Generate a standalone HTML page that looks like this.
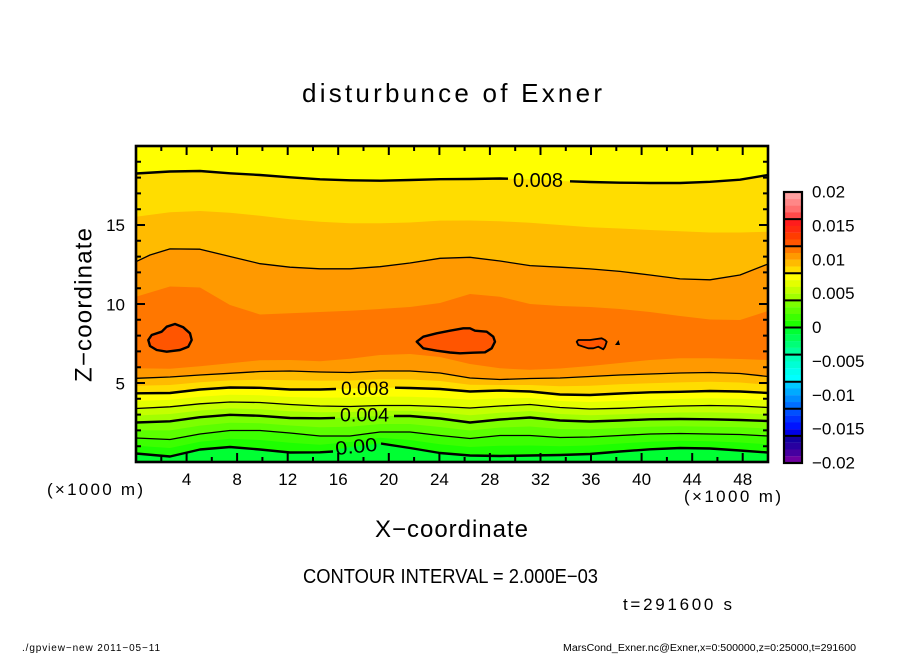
<!DOCTYPE html>
<html><head><meta charset="utf-8"><style>
html,body{margin:0;padding:0;background:#fff;}
svg{display:block;}
text{font-family:"Liberation Sans",sans-serif;fill:#000;}
</style></head><body>
<svg width="904" height="654" viewBox="0 0 904 654" xmlns="http://www.w3.org/2000/svg">
<rect width="904" height="654" fill="#fff"/>
<defs><clipPath id="pc"><rect x="136" y="146" width="632" height="316"/></clipPath></defs>
<g clip-path="url(#pc)">
<rect x="130" y="140" width="645" height="330" fill="#ff7700"/>
<polygon fill="#ff9900" points="130,140 130,296.7 136,296.7 170,286.5 200,287.5 230,305 260,314.5 290,313.3 320,312 350,310.7 380,309 410,307 440,303 470,294 500,296.7 530,304 560,306 590,307 620,309 650,312 680,316 710,319.5 740,320 768,311 775,311 775,140"/>
<polygon fill="#ffbb00" points="130,140 130,261.7 136,261.7 150,255 170,248.9 200,249.2 230,256.5 260,263.7 290,267.2 320,268.8 350,268.8 380,266.7 410,263 440,258.3 470,257.3 500,261 530,265.6 560,267.2 590,268.9 620,271.4 650,275 680,278.9 710,279.8 740,275 768,264 775,264 775,140"/>
<polygon fill="#ffdd00" points="130,140 130,216.7 136,216.7 170,212.3 200,211 230,212.8 260,215.7 290,219.2 320,221.8 350,223.3 380,223.3 410,222.5 440,220.6 470,220.5 500,221.3 530,222.7 560,225 590,227.2 620,228.5 650,230 680,231.2 710,232.5 740,232.5 768,231.7 775,231.7 775,140"/>
<polygon fill="#ffff00" points="130,140 130,173.5 136,173.5 170,171.5 200,171 230,173.3 260,175 290,177.3 320,179.3 350,180.3 380,180.7 410,180 440,179.2 470,179 500,178.5 530,179.5 560,181 590,182 620,182.7 650,183 680,183 710,181.8 740,179.7 768,175 775,175 775,140"/>
<polygon fill="#ff9900" points="130,470 130,368.3 136,368.3 170,368.8 200,366.3 230,363.3 260,360.3 290,360 320,361.2 350,358.7 380,355 410,354 440,357 470,364 500,368.3 530,369.8 560,368.5 590,366 620,363 650,360 680,358.3 710,358.3 740,359 768,360 775,360 775,470"/>
<polygon fill="#ffbb00" points="130,470 130,378.3 136,378.3 170,377 200,375 230,373.3 260,371.5 290,371 320,372 350,372.5 380,371 410,371 440,373 470,378 500,379.5 530,378.5 560,378 590,376.5 620,375 650,374 680,373 710,372.5 740,373.5 768,376.5 775,376.5 775,470"/>
<polygon fill="#ffdd00" points="130,470 130,385.8 136,385.8 170,385 200,382.3 230,380.4 260,379.7 290,380.3 320,380.8 350,380.5 380,379.3 410,379.5 440,381 470,384.8 500,385 530,385 560,386.3 590,385.8 620,384.3 650,383.2 680,382.4 710,381.8 740,382.5 768,384.8 775,384.8 775,470"/>
<polygon fill="#ffff00" points="130,470 130,393.3 136,393.3 170,393 200,389.5 230,387.5 260,387.8 290,389.5 320,389.5 350,388.5 380,387.5 410,388 440,389 470,391.5 500,390.5 530,391.5 560,394.5 590,395 620,393.5 650,392.3 680,391.8 710,391 740,391.5 768,393 775,393 775,470"/>
<polygon fill="#e4ff00" points="130,470 130,400.9 136,400.9 170,399.9 200,396.7 230,394.8 260,395.2 290,397 320,397.8 350,397.5 380,396.5 410,396.8 440,397.8 470,399.8 500,398.3 530,398 560,401 590,402 620,400.9 650,399.7 680,398.9 710,398.3 740,398.8 768,400.3 775,400.3 775,470"/>
<polygon fill="#c4ff00" points="130,470 130,408.5 136,408.5 170,406.8 200,403.8 230,402 260,402.5 290,404.5 320,406 350,406.5 380,405.5 410,405.5 440,406.5 470,408 500,406 530,404.5 560,407.5 590,409 620,408.3 650,407 680,406 710,405.5 740,406 768,407.5 775,407.5 775,470"/>
<polygon fill="#a2ff00" points="130,470 130,415.5 136,415.5 170,414 200,410.5 230,408.4 260,409.2 290,411.3 320,412.2 350,412 380,410.8 410,410.8 440,412.5 470,415.3 500,412.8 530,411 560,414 590,415.3 620,414.4 650,413.2 680,412.5 710,412.4 740,413 768,414.3 775,414.3 775,470"/>
<polygon fill="#7cff00" points="130,470 130,422.5 136,422.5 170,421.3 200,417.2 230,414.8 260,415.8 290,418 320,418.3 350,417.5 380,416 410,416 440,418.5 470,422.5 500,419.5 530,417.5 560,420.5 590,421.5 620,420.5 650,419.3 680,419 710,419.3 740,420 768,421 775,421 775,470"/>
<polygon fill="#5cff00" points="130,470 130,430.3 136,430.3 170,430.4 200,425.6 230,422.7 260,423.2 290,425.5 320,427.2 350,426.8 380,424 410,424 440,427 470,430.5 500,427.5 530,426.5 560,429 590,429.3 620,428 650,426.7 680,426.3 710,426.7 740,427.3 768,428.5 775,428.5 775,470"/>
<polygon fill="#3cff00" points="130,470 130,438 136,438 170,439.5 200,434 230,430.5 260,430.5 290,433 320,436 350,436 380,432 410,432 440,435.5 470,438.5 500,435.5 530,435.5 560,437.5 590,437 620,435.5 650,434 680,433.5 710,434 740,434.5 768,436 775,436 775,470"/>
<polygon fill="#1eff00" points="130,470 130,445.8 136,445.8 170,448 200,441.8 230,438.8 260,440 290,442.8 320,444.8 350,442 380,437.8 410,440 440,444.3 470,447 500,445.8 530,445.5 560,446.3 590,445.5 620,443.5 650,441.7 680,440.8 710,441.3 740,442.5 768,444.3 775,444.3 775,470"/>
<polygon fill="#00ff33" points="130,470 130,453.5 136,453.5 170,456.5 200,449.5 230,447 260,449.5 290,452.5 320,452.5 350,447 380,443.5 410,448 440,453 470,455.5 500,456 530,455.5 560,455 590,454 620,451.5 650,449.3 680,448 710,448.5 740,450.5 768,452.5 775,452.5 775,470"/>
<g fill="#ff5500" stroke="#000" stroke-width="2.4" stroke-linejoin="round">
<polygon points="148.3,340 151.7,335 161.7,331.7 166.7,326.7 175,324 183.3,327.3 190,333.3 191.7,340 188.3,346.7 180,350 166.7,351.7 156.7,350 150,346"/>
<polygon points="416.7,341.7 423.3,336.7 436.7,333.3 450,330.7 463.3,328.3 470,328.3 475,330.7 486.7,331.7 493.3,336.7 495,341.7 491.7,348.3 485,352.3 473.3,352.7 460,353.3 450,352.5 436.7,350.7 423.3,348.3"/>
<polygon stroke-width="1.8" points="576.7,341.7 578.3,340 590,340 596.7,339 601.7,338.3 605,340 606.7,341.7 605,346.7 603.3,349.3 598.3,346.7 593.3,348.3 588.3,348.3 583.3,346.7 578.3,345"/>
</g>
<polygon fill="#000" points="615,345 620,345 618.5,340"/>
<g fill="none" stroke="#000" stroke-linejoin="round">
<polyline stroke-width="2.4" points="136,173.5 170,171.5 200,171 230,173.3 260,175 290,177.3 320,179.3 350,180.3 380,180.7 410,180 440,179.2 470,179 500,178.5 508,178.7"/>
<polyline stroke-width="2.4" points="570,181.3 590,182 620,182.7 650,183 680,183 710,181.8 740,179.7 768,175"/>
<polyline stroke-width="1.3" points="136,261.7 150,255 170,248.9 200,249.2 230,256.5 260,263.7 290,267.2 320,268.8 350,268.8 380,266.7 410,263 440,258.3 470,257.3 500,261 530,265.6 560,267.2 590,268.9 620,271.4 650,275 680,278.9 710,279.8 740,275 768,264"/>
<polyline stroke-width="1.3" points="136,378.3 170,377 200,375 230,373.3 260,371.5 290,371 320,372 350,372.5 380,371 410,371 440,373 470,378 500,379.5 530,378.5 560,378 590,376.5 620,375 650,374 680,373 710,372.5 740,373.5 768,376.5"/>
<polyline stroke-width="2.4" points="136,393.3 170,393 200,389.5 230,387.5 260,387.8 290,389.5 320,389.5 336,389"/>
<polyline stroke-width="2.4" points="395,387.7 410,388 440,389 470,391.5 500,390.5 530,391.5 560,394.5 590,395 620,393.5 650,392.3 680,391.8 710,391 740,391.5 768,393"/>
<polyline stroke-width="1.3" points="136,408.5 170,406.8 200,403.8 230,402 260,402.5 290,404.5 320,406 350,406.5 380,405.5 410,405.5 440,406.5 470,408 500,406 530,404.5 560,407.5 590,409 620,408.3 650,407 680,406 710,405.5 740,406 768,407.5"/>
<polyline stroke-width="2.4" points="136,422.5 170,421.3 200,417.2 230,414.8 260,415.8 290,418 320,418.3 335,417.9"/>
<polyline stroke-width="2.4" points="394,416 410,416 440,418.5 470,422.5 500,419.5 530,417.5 560,420.5 590,421.5 620,420.5 650,419.3 680,419 710,419.3 740,420 768,421"/>
<polyline stroke-width="1.3" points="136,438 170,439.5 200,434 230,430.5 260,430.5 290,433 320,436 350,436 380,432 410,432 440,435.5 470,438.5 500,435.5 530,435.5 560,437.5 590,437 620,435.5 650,434 680,433.5 710,434 740,434.5 768,436"/>
<polyline stroke-width="2.4" points="136,453.5 170,456.5 200,449.5 230,447 260,449.5 290,452.5 320,452.3 333,451.5"/>
<polyline stroke-width="2.4" points="381,443.5 410,448 440,453 470,455.5 500,456 530,455.5 560,455 590,454 620,451.5 650,449.3 680,448 710,448.5 740,450.5 768,452.5"/>
</g>
<text x="513" y="187" font-size="20" textLength="50" lengthAdjust="spacingAndGlyphs">0.008</text>
<text x="341" y="395" font-size="19" textLength="48" lengthAdjust="spacingAndGlyphs">0.008</text>
<text x="340" y="421.5" font-size="19" textLength="49" lengthAdjust="spacingAndGlyphs">0.004</text>
<text x="336" y="455" font-size="19" textLength="42" lengthAdjust="spacingAndGlyphs" transform="rotate(-6 336 455)">0.00</text>
</g>
<rect x="136" y="146" width="632" height="316" fill="none" stroke="#000" stroke-width="2.6"/>
<g stroke="#000" stroke-width="2">
<path d="M186.6,462v-9M237.1,462v-9M287.7,462v-9M338.2,462v-9M388.8,462v-9M439.4,462v-9M489.9,462v-9M540.5,462v-9M591,462v-9M641.6,462v-9M692.2,462v-9M742.7,462v-9"/>
<path d="M186.6,146v9M237.1,146v9M287.7,146v9M338.2,146v9M388.8,146v9M439.4,146v9M489.9,146v9M540.5,146v9M591,146v9M641.6,146v9M692.2,146v9M742.7,146v9"/>
<path d="M161.3,462v-5M211.8,462v-5M262.4,462v-5M313,462v-5M363.5,462v-5M414.1,462v-5M464.6,462v-5M515.2,462v-5M565.8,462v-5M616.3,462v-5M666.9,462v-5M717.4,462v-5"/>
<path d="M161.3,146v5M211.8,146v5M262.4,146v5M313,146v5M363.5,146v5M414.1,146v5M464.6,146v5M515.2,146v5M565.8,146v5M616.3,146v5M666.9,146v5M717.4,146v5"/>
<path d="M136,383h9M136,304h9M136,225h9M768,383h-9M768,304h-9M768,225h-9"/>
<path d="M136,446.2h5M136,430.4h5M136,414.6h5M136,398.8h5M136,367.2h5M136,351.4h5M136,335.6h5M136,319.8h5M136,288.2h5M136,272.4h5M136,256.6h5M136,240.8h5M136,209.2h5M136,193.4h5M136,177.6h5M136,161.8h5"/>
<path d="M768,446.2h-5M768,430.4h-5M768,414.6h-5M768,398.8h-5M768,367.2h-5M768,351.4h-5M768,335.6h-5M768,319.8h-5M768,288.2h-5M768,272.4h-5M768,256.6h-5M768,240.8h-5M768,209.2h-5M768,193.4h-5M768,177.6h-5M768,161.8h-5"/>
</g>
<g font-size="17" text-anchor="middle">
<text x="186.6" y="485">4</text><text x="237.1" y="485">8</text><text x="287.7" y="485">12</text><text x="338.2" y="485">16</text><text x="388.8" y="485">20</text><text x="439.4" y="485">24</text><text x="489.9" y="485">28</text><text x="540.5" y="485">32</text><text x="591" y="485">36</text><text x="641.6" y="485">40</text><text x="692.2" y="485">44</text><text x="742.7" y="485">48</text>
</g>
<g font-size="17" text-anchor="end">
<text x="125" y="231">15</text><text x="125" y="310.5">10</text><text x="125" y="389.5">5</text>
</g>
<text x="47" y="495" font-size="17" textLength="96" lengthAdjust="spacing">(×1000 m)</text>
<text x="684" y="502" font-size="17" textLength="97" lengthAdjust="spacing">(×1000 m)</text>
<text x="302" y="102" font-size="26" textLength="300" lengthAdjust="spacing">disturbunce of Exner</text>
<text x="375" y="537" font-size="24" textLength="153" lengthAdjust="spacing">X−coordinate</text>
<text transform="translate(91.5,382) rotate(-90)" font-size="24" textLength="154" lengthAdjust="spacing">Z−coordinate</text>
<text x="303" y="583" font-size="20" textLength="295" lengthAdjust="spacingAndGlyphs">CONTOUR INTERVAL = 2.000E−03</text>
<text x="623" y="610" font-size="17" textLength="109" lengthAdjust="spacing">t=291600 s</text>
<text x="22" y="651" font-size="10" textLength="138" lengthAdjust="spacing">./gpview−new  2011−05−11</text>
<text x="563" y="651" font-size="10" textLength="293" lengthAdjust="spacingAndGlyphs">MarsCond_Exner.nc@Exner,x=0:500000,z=0:25000,t=291600</text>
<g>
<rect x="784" y="192" width="18" height="6.9" fill="#ff9f9f"/>
<rect x="784" y="198.78" width="18" height="6.9" fill="#ff8787"/>
<rect x="784" y="205.55" width="18" height="6.9" fill="#ff6f6f"/>
<rect x="784" y="212.33" width="18" height="6.9" fill="#ff4a4a"/>
<rect x="784" y="219.1" width="18" height="6.9" fill="#ff1c1c"/>
<rect x="784" y="225.88" width="18" height="6.9" fill="#ff2a10"/>
<rect x="784" y="232.65" width="18" height="6.9" fill="#ff3c00"/>
<rect x="784" y="239.43" width="18" height="6.9" fill="#ff5500"/>
<rect x="784" y="246.2" width="18" height="6.9" fill="#ff7700"/>
<rect x="784" y="252.98" width="18" height="6.9" fill="#ff9900"/>
<rect x="784" y="259.75" width="18" height="6.9" fill="#ffbb00"/>
<rect x="784" y="266.53" width="18" height="6.9" fill="#ffdd00"/>
<rect x="784" y="273.3" width="18" height="6.9" fill="#ffff00"/>
<rect x="784" y="280.08" width="18" height="6.9" fill="#e4ff00"/>
<rect x="784" y="286.85" width="18" height="6.9" fill="#c4ff00"/>
<rect x="784" y="293.63" width="18" height="6.9" fill="#a2ff00"/>
<rect x="784" y="300.4" width="18" height="6.9" fill="#7cff00"/>
<rect x="784" y="307.18" width="18" height="6.9" fill="#5cff00"/>
<rect x="784" y="313.95" width="18" height="6.9" fill="#3cff00"/>
<rect x="784" y="320.73" width="18" height="6.9" fill="#1eff00"/>
<rect x="784" y="327.5" width="18" height="6.9" fill="#00ff33"/>
<rect x="784" y="334.28" width="18" height="6.9" fill="#00ff55"/>
<rect x="784" y="341.05" width="18" height="6.9" fill="#00ff77"/>
<rect x="784" y="347.83" width="18" height="6.9" fill="#00ff99"/>
<rect x="784" y="354.6" width="18" height="6.9" fill="#00ffbb"/>
<rect x="784" y="361.38" width="18" height="6.9" fill="#00ffd5"/>
<rect x="784" y="368.15" width="18" height="6.9" fill="#00ffee"/>
<rect x="784" y="374.93" width="18" height="6.9" fill="#00ffff"/>
<rect x="784" y="381.7" width="18" height="6.9" fill="#00c8ff"/>
<rect x="784" y="388.48" width="18" height="6.9" fill="#00aaff"/>
<rect x="784" y="395.25" width="18" height="6.9" fill="#008cff"/>
<rect x="784" y="402.03" width="18" height="6.9" fill="#006eff"/>
<rect x="784" y="408.8" width="18" height="6.9" fill="#0050ff"/>
<rect x="784" y="415.58" width="18" height="6.9" fill="#0032ff"/>
<rect x="784" y="422.35" width="18" height="6.9" fill="#0014ff"/>
<rect x="784" y="429.13" width="18" height="6.9" fill="#0000e6"/>
<rect x="784" y="435.9" width="18" height="6.9" fill="#14009f"/>
<rect x="784" y="442.68" width="18" height="6.9" fill="#2800a0"/>
<rect x="784" y="449.45" width="18" height="6.9" fill="#4600a0"/>
<rect x="784" y="456.23" width="18" height="6.77" fill="#6e00a0"/>
</g>
<path stroke="#000" stroke-width="2" d="M784,219.1h18M784,246.2h18M784,273.3h18M784,300.4h18M784,327.5h18M784,354.6h18M784,381.7h18M784,408.8h18M784,435.9h18"/>
<rect x="784" y="192" width="18" height="271" fill="none" stroke="#000" stroke-width="2.2"/>
<g font-size="17">
<text x="812" y="197.5">0.02</text>
<text x="812" y="231.4">0.015</text>
<text x="812" y="265.3">0.01</text>
<text x="812" y="299.2">0.005</text>
<text x="812" y="333">0</text>
<text x="812" y="366.9">−0.005</text>
<text x="812" y="400.8">−0.01</text>
<text x="812" y="434.7">−0.015</text>
<text x="812" y="468.5">−0.02</text>
</g>
</svg>
</body></html>
